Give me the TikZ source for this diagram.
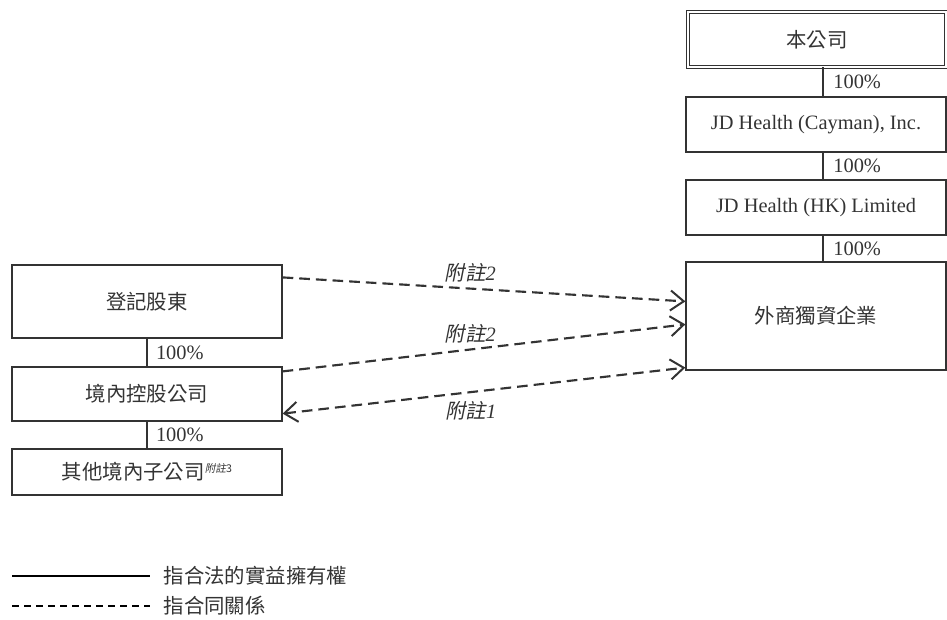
\documentclass[tikz,border=0pt]{standalone}
\usepackage{fontspec}
\setmainfont{Liberation Serif}
\newfontfamily\cjk{Noto Sans CJK TC}
\newfontfamily\cjkit[FakeSlant=0.2]{Noto Sans CJK TC}
\usetikzlibrary{arrows.meta,calc}
\definecolor{inkgrey}{HTML}{333333}
\newcommand{\notemark}[1]{{\cjkit 附註}\textit{#1}}

\begin{document}
\begin{tikzpicture}[x=0.75pt,y=-0.75pt,
		every node/.style={font=\fontsize{15.3}{18}\selectfont, text=inkgrey},
		entity/.style={draw=inkgrey, line width=0.9pt, rectangle, inner sep=0pt},
		own/.style={draw=inkgrey, line width=0.9pt},
		deal/.style={draw=inkgrey, line width=1.6pt, dash pattern=on 8pt off 4.5pt},
		>={Straight Barb[length=10pt,width=15pt,line width=1.5pt]}]
	\useasboundingbox (0,0) rectangle (947,619);
	% right column
	\node[entity, line width=0.7pt, double, double distance=1.4pt, minimum width=193pt, minimum height=41pt] (B_co) at (817,39.5) {\cjk 本公司};
	\node[entity, minimum width=195pt, minimum height=41.25pt] (B_cay) at (816,124.5) {JD Health (Cayman), Inc.};
	\draw[own] ($(B_co.south)+(6,0)$) -- ($(B_cay.north)+(7,0)$) node[midway, right, xshift=4pt] {100\%};
	\node[entity, minimum width=195pt, minimum height=41.25pt] (B_hk) at (816,207.5) {JD Health (HK) Limited};
	\draw[own] ($(B_cay.south)+(7,0)$) -- ($(B_hk.north)+(7,0)$) node[midway, right, xshift=4pt] {100\%};
	\node[entity, minimum width=195pt, minimum height=81pt] (B_wfoe) at (816,316) {\cjk 外商獨資企業};
	\draw[own] ($(B_hk.south)+(7,0)$) -- ($(B_wfoe.north)+(7,0)$) node[midway, right, xshift=4pt] {100\%};
	% left column
	\node[entity, minimum width=202.5pt, minimum height=54.75pt] (B_reg) at (147,301.5) {\cjk 登記股東};
	\node[entity, minimum width=202.5pt, minimum height=40.5pt] (B_dom) at (147,394) {\cjk 境內控股公司};
	\draw[own] (B_reg) -- (B_dom) node[midway, right, xshift=3pt] {100\%};
	\node[entity, minimum width=202.5pt, minimum height=34.5pt] (B_oth) at (147,472) {\cjk 其他境內子公司\raisebox{0.7ex}{\fontsize{8}{9}\selectfont\notemark{3}}};
	\draw[own] (B_dom) -- (B_oth) node[midway, right, xshift=3pt] {100\%};
	% contractual arrangements
	\draw[deal, ->] ($(B_reg.north east)+(0,13)$) -- ($(B_wfoe.north west)+(0,40)$) node[pos=0.466, above, yshift=1pt] {\notemark{2}};
	\draw[deal, ->] ($(B_dom.north east)+(0,5)$) -- ($(B_wfoe.north west)+(0,63)$) node[pos=0.466, above, yshift=1pt] {\notemark{2}};
	\draw[deal, <->] ($(B_dom.south east)+(0,-8)$) -- ($(B_wfoe.south west)+(0,-3)$) node[pos=0.467, below, yshift=-3pt] {\notemark{1}};
	% legend
	\coordinate (L_s0) at (12,576);
	\coordinate (L_s1) at (150,576);
	\draw[line width=1.4pt] (L_s0) -- (L_s1);
	\node[anchor=west] (L_st) at (159,576) {\cjk 指合法的實益擁有權};
	\coordinate (L_d0) at (12,606);
	\coordinate (L_d1) at (150,606);
	\draw[line width=1.1pt, dash pattern=on 5.5pt off 3.5pt] (L_d0) -- (L_d1);
	\node[anchor=west] (L_dt) at (159,606) {\cjk 指合同關係};
\end{tikzpicture}
\end{document}
